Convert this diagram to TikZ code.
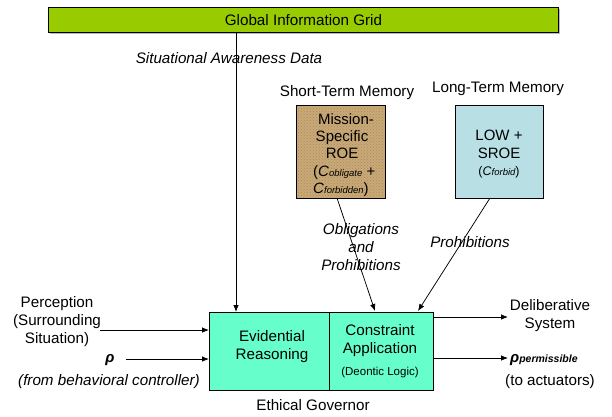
\documentclass[tikz,border=0pt]{standalone}
\usepackage{fontspec}
\setmainfont{Liberation Sans}
\usetikzlibrary{arrows.meta,patterns}
\definecolor{gridgreen}{HTML}{99CC00}
\definecolor{govgreen}{HTML}{66FFCC}
\definecolor{roetan}{HTML}{C9A977}
\definecolor{lowblue}{HTML}{B8E0E4}
\tikzset{
  box/.style={draw=black, line width=0.9pt, inner sep=0pt},
  lbl/.style={font=\fontsize{15.2}{18}\selectfont, align=center, inner sep=0pt},
  ilbl/.style={lbl, font=\fontsize{15.2}{18}\selectfont\itshape},
  arr/.style={-{Latex[length=7pt,width=5.5pt]}, line width=0.75pt},
}
\newcommand{\subsz}{\fontsize{9.5}{10}\selectfont\itshape}
\begin{document}
\begin{tikzpicture}[x=1pt,y=-1pt]
\useasboundingbox (0,0) rectangle (612,416);

% top bar with its drop shadow
\fill[gray!55] (50,9) rectangle (560,34);
\node[box, fill=gridgreen, minimum width=510, minimum height=25.5, anchor=north west,
      font=\fontsize{15.2}{18}\selectfont] (gig) at (48,6.5) {Global Information Grid};
\node[ilbl] (sad) at (229,58) {Situational Awareness Data};

% memory boxes
\node[lbl] (stmlbl) at (347,93) {Short-Term Memory};
\node[lbl] (ltmlbl) at (498,89) {Long-Term Memory};
\node[box, fill=roetan, minimum width=89, minimum height=93, anchor=north west] (stm) at (296,105) {};
\fill[pattern=crosshatch dots, pattern color=brown!60!black, opacity=0.35] (stm.north west) rectangle (stm.south east);
\draw[line width=0.9pt] (stm.north west) rectangle (stm.south east);
\node[lbl, font=\fontsize{15}{17}\selectfont] (stmtxt) at (342,136) {\hspace*{8pt}Mission-\\Specific\\ROE};
\node[lbl, font=\fontsize{15}{17}\selectfont, align=left, anchor=west] (stmform) at (313,181)
  {(\textit{C}{\subsz obligate} +\\\textit{C}{\subsz forbidden})};

\node[box, fill=lowblue, minimum width=88, minimum height=93, anchor=north west] (ltm) at (455,105) {};
\node[lbl, font=\fontsize{15}{18}\selectfont] (ltmtxt) at (499,144) {LOW +\\SROE};
\node[lbl, font=\fontsize{12.5}{14}\selectfont] (ltmform) at (499,172)
  {(\textit{C}{\subsz forbid})};

% ethical governor
\node[box, fill=govgreen, minimum width=120, minimum height=78, anchor=north west] (ev) at (209,312) {};
\node[box, fill=govgreen, minimum width=104, minimum height=78, anchor=north west] (ca) at (329,312) {};
\node[lbl] (evtxt) at (272,347) {Evidential\\Reasoning};
\node[lbl] (catxt) at (380,341) {Constraint\\Application};
\node[lbl, font=\fontsize{11.5}{13}\selectfont] (deon) at (380,373) {(Deontic Logic)};
\node[lbl] (eg) at (313,405) {Ethical Governor};

% inputs
\node[lbl] (perc) at (57,322) {Perception\\(Surrounding\\Situation)};
\coordinate (percend) at (100,330);
\node[lbl, font=\fontsize{15}{18}\selectfont\bfseries\itshape] (rho) at (110,360) {ρ};
\coordinate (rhoend) at (126,359);
\node[ilbl] (rhofrom) at (109,382) {(from behavioral controller)};

% outputs
\node[lbl] (delib) at (550,316) {Deliberative\\System};
\node[lbl, anchor=west, font=\fontsize{15}{18}\selectfont\bfseries\itshape] (rhop) at (510,360) {ρ{\fontsize{10.5}{11}\selectfont permissible}};
\node[lbl] (act) at (550,382) {(to actuators)};

% obligation labels
\node[ilbl] (oblig) at (361,247) {Obligations\\and\\Prohibitions};
\node[ilbl] (prohib) at (470,242) {Prohibitions};

% connectors
\draw[arr] (236,32) -- (236,312);
\draw[arr] (percend) -- (209,330);
\draw[arr] (rhoend) -- (209,359);
\draw[arr] (337,198) -- (375,311);
\draw[arr] (490,198) -- (418,311);
\draw[arr] (433,317) -- (508,317);
\draw[arr] (433,358) -- (508,358);
\end{tikzpicture}
\end{document}
